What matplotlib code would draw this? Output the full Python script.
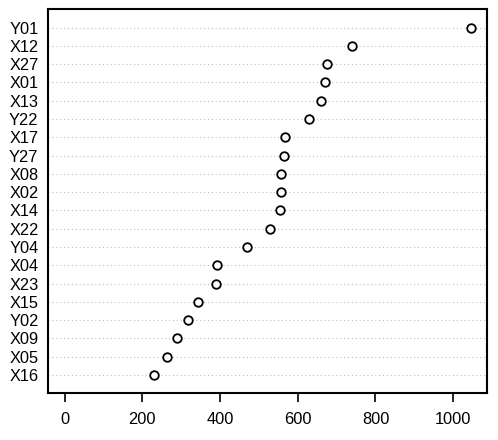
import matplotlib
matplotlib.use("Agg")
import matplotlib.pyplot as plt

labels = ["Y01", "X12", "X27", "X01", "X13", "Y22", "X17", "Y27", "X08", "X02",
          "X14", "X22", "Y04", "X04", "X23", "X15", "Y02", "X09", "X05", "X16"]
values = [1046, 740, 676, 671, 660, 629, 567, 564, 558, 556,
          554, 529, 469, 393, 390, 343, 317, 290, 264, 230]
xticks = [0, 200, 400, 600, 800, 1000]

plt.rcParams['font.family'] = ['Liberation Sans', 'DejaVu Sans']
fig = plt.figure(figsize=(4.98, 4.4), dpi=100)
W, H = 498, 440
ax = fig.add_axes([48.3 / W, (H - 393.3) / H, (487.3 - 48.3) / W, (393.3 - 9.3) / H])

n = len(labels)
ypos = list(range(n, 0, -1))
for y in ypos:
    ax.axhline(y, color="#bdbdbd", lw=0.8, ls=(0, (1, 2.5)), zorder=1)
ax.scatter(values, ypos, s=38, facecolors="white", edgecolors="black", linewidths=1.3, zorder=3)

lo, hi = min(0, min(values)), max(values)
pad = 0.04 * (hi - lo)
ax.set_xlim(lo - pad, hi + pad)
ax.set_ylim(0, n + 1)
ax.set_yticks(ypos)
ax.set_yticklabels(labels)
ax.set_xticks(xticks)
ax.set_xticklabels([str(t) for t in xticks])
ax.tick_params(axis="y", length=0, pad=7, labelsize=11.8)
ax.tick_params(axis="x", length=6.5, width=1.2, pad=7, labelsize=11.8, direction="out")
for s in ax.spines.values():
    s.set_linewidth(1.5)

fig.savefig("out.png", dpi=100)
